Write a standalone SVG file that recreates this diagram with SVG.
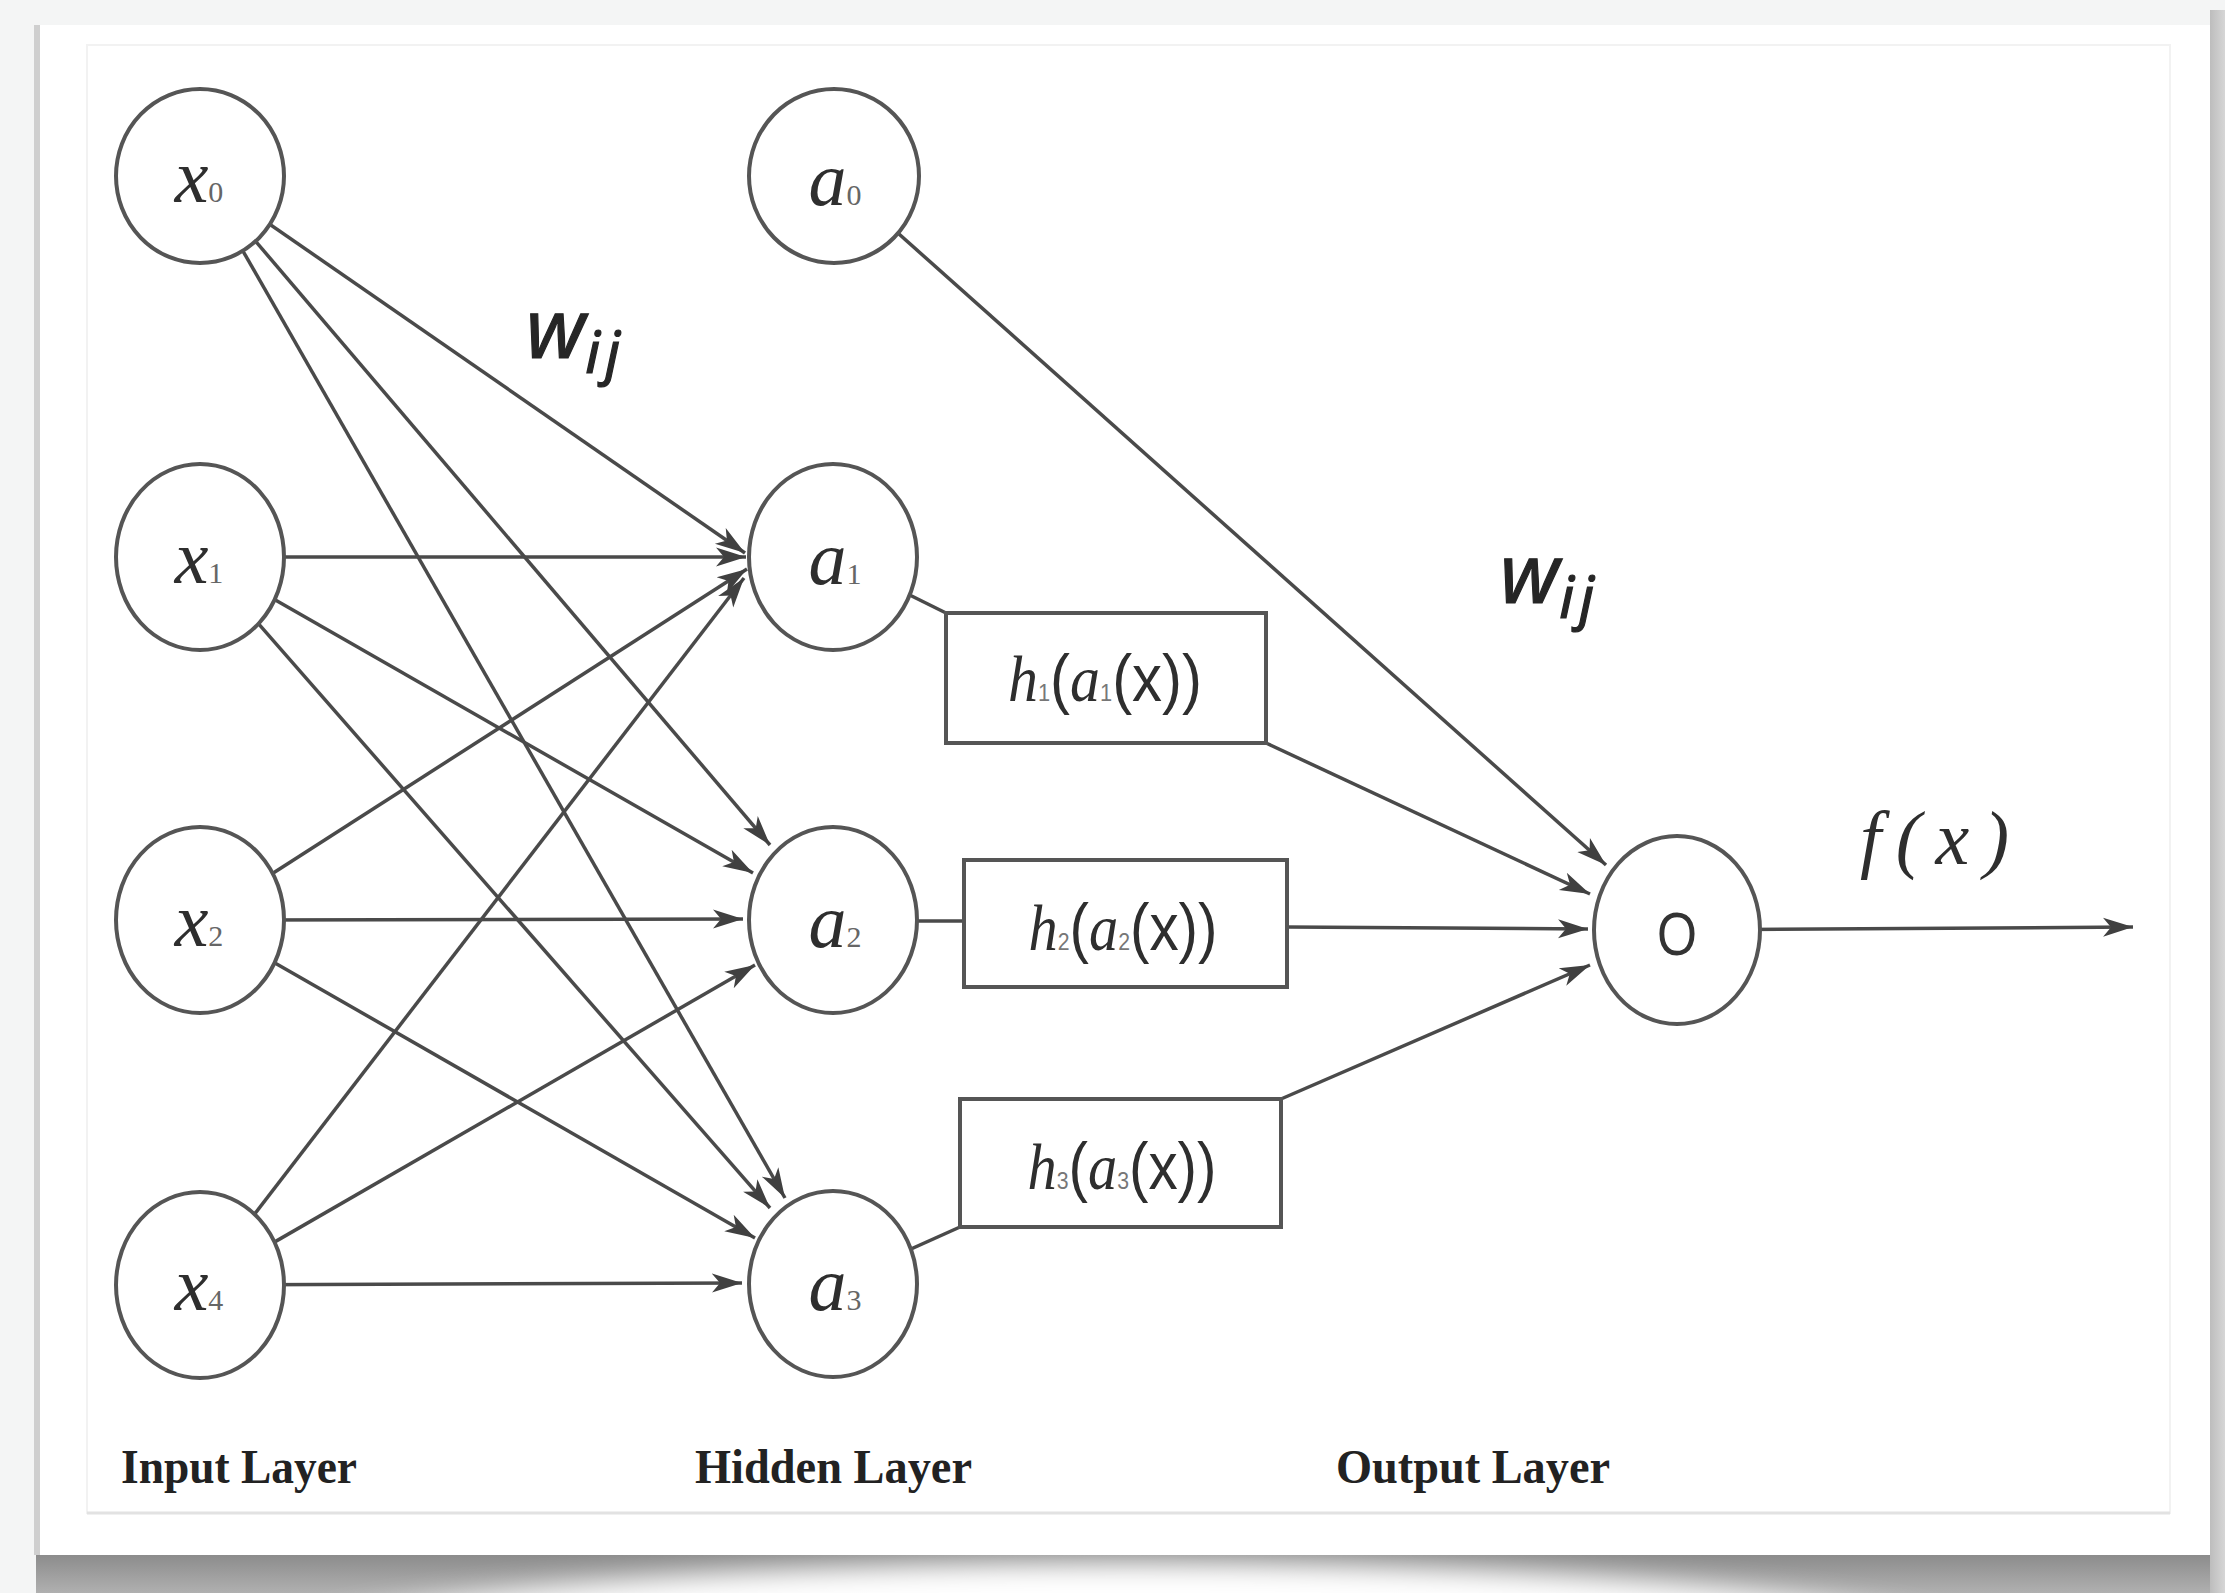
<svg xmlns="http://www.w3.org/2000/svg" width="2225" height="1593" viewBox="0 0 2225 1593">
  <defs>
    <style>
      .node { fill: #ffffff; stroke: #555555; stroke-width: 4; }
      .box { fill: #ffffff; stroke: #555555; stroke-width: 4; }
      .edge { fill: none; stroke: #4a4a4a; stroke-width: 3.5; }
      .arrow { marker-end: url(#tip); }
      .lbl { font-family: "Liberation Serif", "Times New Roman", serif; font-style: italic; font-size: 76px; fill: #2e2e2e; }
      .sub { font-style: normal; font-size: 30px; fill: #666666; }
      .fn { font-family: "Liberation Sans", Arial, sans-serif; font-size: 66px; fill: #2e2e2e; }
      .fn .it { font-family: "Liberation Serif", "Times New Roman", serif; font-style: italic; }
      .fn .s { font-family: "Liberation Sans", Arial, sans-serif; font-size: 24px; fill: #777777; }
      .w { font-family: "Noto Sans", "DejaVu Sans", sans-serif; font-style: italic; font-size: 82px; fill: #262626; stroke: #262626; stroke-width: 1.2; }
      .w .ij { font-size: 58px; letter-spacing: 5px; }
      .layer { font-family: "Liberation Serif", "Times New Roman", serif; font-weight: bold; font-size: 48px; fill: #222222; }
    </style>
    <marker id="tip" markerUnits="userSpaceOnUse" viewBox="0 -12 32 24" refX="30" refY="0" markerWidth="32" markerHeight="24" orient="auto">
      <path d="M0,-9.5 L30,0 L0,9.5 L8,0 Z" fill="#404040"/>
    </marker>
    <linearGradient id="rightBand" x1="0" y1="0" x2="1" y2="0">
      <stop offset="0" stop-color="#bdbdbd"/>
      <stop offset="1" stop-color="#d6d6d6"/>
    </linearGradient>
    <linearGradient id="shadowFade" x1="0" y1="0" x2="0" y2="1">
      <stop offset="0" stop-color="#8a8a8a"/>
      <stop offset="1" stop-color="#b0b0b0"/>
    </linearGradient>
    <filter id="soft" x="-20%" y="-100%" width="140%" height="300%">
      <feGaussianBlur stdDeviation="14"/>
    </filter>
  </defs>

  <!-- page and card -->
  <g id="backdrop">
    <rect x="0" y="0" width="2225" height="1593" fill="#f4f5f5"/>
    <rect x="36" y="1553" width="2189" height="40" fill="url(#shadowFade)"/>
    <ellipse cx="1130" cy="1665" rx="880" ry="102" fill="#ffffff" filter="url(#soft)"/>
    <rect x="2210" y="10" width="15" height="1583" fill="url(#rightBand)"/>
    <rect x="38" y="25" width="2172" height="1530" fill="#ffffff"/>
    <rect x="34" y="25" width="6" height="1530" fill="#cfcfcf"/>
    <rect x="87" y="45" width="2083" height="1468" fill="none" stroke="#f2f2f2" stroke-width="2"/>
    <line x1="87" y1="1513" x2="2170" y2="1513" stroke="#e2e2e2" stroke-width="3"/>
  </g>

  <!-- connectors -->
  <g id="connectors">
    <!-- input layer to hidden layer -->
    <line class="edge arrow" x1="200" y1="176" x2="745" y2="553"/>
    <line class="edge arrow" x1="200" y1="176" x2="770" y2="845"/>
    <line class="edge arrow" x1="200" y1="176" x2="785" y2="1198"/>
    <line class="edge arrow" x1="200" y1="557" x2="746" y2="557"/>
    <line class="edge arrow" x1="200" y1="557" x2="753" y2="873"/>
    <line class="edge arrow" x1="200" y1="557" x2="770" y2="1208"/>
    <line class="edge arrow" x1="200" y1="920" x2="747" y2="569"/>
    <line class="edge arrow" x1="200" y1="920" x2="743" y2="919"/>
    <line class="edge arrow" x1="200" y1="920" x2="755" y2="1238"/>
    <line class="edge arrow" x1="200" y1="1285" x2="744" y2="578"/>
    <line class="edge arrow" x1="200" y1="1285" x2="755" y2="965"/>
    <line class="edge arrow" x1="200" y1="1285" x2="742" y2="1283"/>
    <!-- hidden layer to activation boxes -->
    <line class="edge" x1="833" y1="557" x2="946" y2="613"/>
    <line class="edge" x1="833" y1="921" x2="964" y2="921"/>
    <line class="edge" x1="833" y1="1284" x2="960" y2="1227"/>
    <!-- to output node -->
    <line class="edge arrow" x1="834" y1="176" x2="1606" y2="865"/>
    <line class="edge arrow" x1="1266" y1="743" x2="1590" y2="894"/>
    <line class="edge arrow" x1="1287" y1="927" x2="1588" y2="929"/>
    <line class="edge arrow" x1="1281" y1="1099" x2="1590" y2="965"/>
    <line class="edge arrow" x1="1677" y1="930" x2="2133" y2="927"/>
  </g>

  <!-- input layer -->
  <g id="x0">
    <ellipse class="node" cx="200" cy="176" rx="84" ry="87"/>
    <text class="lbl" x="199" y="202" text-anchor="middle">x<tspan class="sub">0</tspan></text>
  </g>
  <g id="x1">
    <ellipse class="node" cx="200" cy="557" rx="84" ry="93"/>
    <text class="lbl" x="199" y="583" text-anchor="middle">x<tspan class="sub">1</tspan></text>
  </g>
  <g id="x2">
    <ellipse class="node" cx="200" cy="920" rx="84" ry="93"/>
    <text class="lbl" x="199" y="946" text-anchor="middle">x<tspan class="sub">2</tspan></text>
  </g>
  <g id="x4">
    <ellipse class="node" cx="200" cy="1285" rx="84" ry="93"/>
    <text class="lbl" x="199" y="1310" text-anchor="middle">x<tspan class="sub">4</tspan></text>
  </g>

  <!-- hidden layer -->
  <g id="a0">
    <ellipse class="node" cx="834" cy="176" rx="85" ry="87"/>
    <text class="lbl" x="835" y="205" text-anchor="middle">a<tspan class="sub">0</tspan></text>
  </g>
  <g id="a1">
    <ellipse class="node" cx="833" cy="557" rx="84" ry="93"/>
    <text class="lbl" x="835" y="584" text-anchor="middle">a<tspan class="sub">1</tspan></text>
  </g>
  <g id="a2">
    <ellipse class="node" cx="833" cy="920" rx="84" ry="93"/>
    <text class="lbl" x="835" y="947" text-anchor="middle">a<tspan class="sub">2</tspan></text>
  </g>
  <g id="a3">
    <ellipse class="node" cx="833" cy="1284" rx="84" ry="93"/>
    <text class="lbl" x="835" y="1310" text-anchor="middle">a<tspan class="sub">3</tspan></text>
  </g>

  <!-- activation functions -->
  <g id="h1">
    <rect class="box" x="946" y="613" width="320" height="130"/>
    <text class="fn" x="1105" y="701" text-anchor="middle" textLength="194" lengthAdjust="spacingAndGlyphs"><tspan class="it">h</tspan><tspan class="s">1</tspan>(<tspan class="it">a</tspan><tspan class="s">1</tspan>(x))</text>
  </g>
  <g id="h2">
    <rect class="box" x="964" y="860" width="323" height="127"/>
    <text class="fn" x="1123" y="950" text-anchor="middle" textLength="189" lengthAdjust="spacingAndGlyphs"><tspan class="it">h</tspan><tspan class="s">2</tspan>(<tspan class="it">a</tspan><tspan class="s">2</tspan>(x))</text>
  </g>
  <g id="h3">
    <rect class="box" x="960" y="1099" width="321" height="128"/>
    <text class="fn" x="1122" y="1189" text-anchor="middle" textLength="189" lengthAdjust="spacingAndGlyphs"><tspan class="it">h</tspan><tspan class="s">3</tspan>(<tspan class="it">a</tspan><tspan class="s">3</tspan>(x))</text>
  </g>

  <!-- output node -->
  <g id="O">
    <ellipse class="node" cx="1677" cy="930" rx="83" ry="94"/>
    <text x="1677" y="955" text-anchor="middle" font-family="Liberation Sans, Arial, sans-serif" font-size="61" fill="#333333" textLength="40" lengthAdjust="spacingAndGlyphs">O</text>
  </g>

  <!-- weights and output labels -->
  <g id="weight-labels">
    <text class="w" x="526" y="358">w<tspan class="ij" dy="15">ij</tspan></text>
    <text class="w" x="1500" y="603">w<tspan class="ij" dy="15">ij</tspan></text>
  </g>
  <g id="output-label">
    <text class="lbl" x="1860" y="864" font-size="70" textLength="149" lengthAdjust="spacing">f(x)</text>
  </g>

  <!-- layer captions -->
  <g id="captions">
    <text class="layer" x="121" y="1483" textLength="236" lengthAdjust="spacingAndGlyphs">Input Layer</text>
    <text class="layer" x="695" y="1483" textLength="277" lengthAdjust="spacingAndGlyphs">Hidden Layer</text>
    <text class="layer" x="1336" y="1483" textLength="274" lengthAdjust="spacingAndGlyphs">Output Layer</text>
  </g>
</svg>
